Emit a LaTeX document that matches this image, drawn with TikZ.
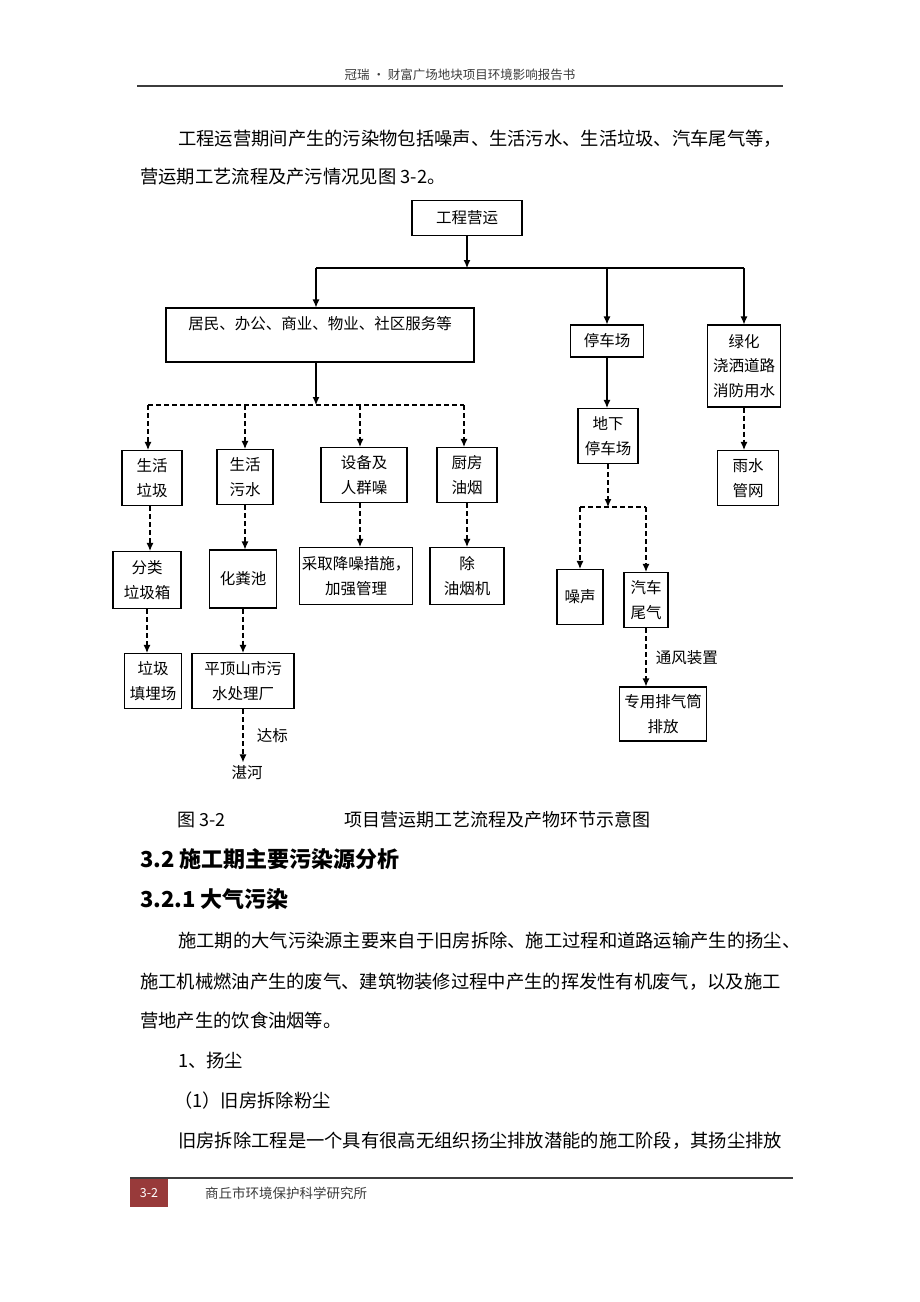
\documentclass[tikz,border=0pt]{standalone}
\usepackage{fontspec}
\setmainfont{Noto Sans CJK SC}
\usetikzlibrary{arrows.meta}
\definecolor{rulegray}{RGB}{60,60,60}
\definecolor{footred}{RGB}{152,58,58}
\tikzset{
  flowbox/.style={draw, line width=1.1pt, align=center, inner sep=0pt, font=\boxsize},
  flowline/.style={line width=1.1pt},
  flowarr/.style={line width=1.1pt, -{Latex[length=8pt,width=7pt]}},
  flowdash/.style={line width=1.1pt, dash pattern=on 5pt off 3pt},
  bodytext/.style={anchor=west, inner sep=0pt, font=\bodysize},
}
\begin{document}
\begin{tikzpicture}[x=1pt,y=-1pt]
        \newcommand{\bodysize}{\fontsize{18.3}{22}\selectfont}
        \newcommand{\boxsize}{\fontsize{15.5}{24.5}\selectfont}
        \newcommand{\headsize}{\fontsize{22}{26}\selectfont\bfseries}
        \newcommand{\smallsize}{\fontsize{12.5}{15}\selectfont}
        \useasboundingbox (0,0) rectangle (920,1302);
        \node[font=\smallsize, text=rulegray] (pagehead) at (460,75) {冠瑞 • 财富广场地块项目环境影响报告书};
        \draw[rulegray, line width=1.5pt] (137,86) -- (783,86);
        \node[bodytext] (introa) at (178,139) {工程运营期间产生的污染物包括噪声、生活污水、生活垃圾、汽车尾气等，};
        \node[bodytext] (introb) at (140,177) {营运期工艺流程及产污情况见图 3-2。};
        \node[flowbox, minimum width=110, minimum height=35] (yunying) at (467,218) {工程营运};
        \node[flowbox, minimum width=308, minimum height=54] (jumin) at (320,335) {居民、办公、商业、物业、社区服务等\\\mbox{}};
        \node[flowbox, minimum width=73, minimum height=32] (tingche) at (607,341) {停车场};
        \node[flowbox, minimum width=73, minimum height=82] (lvhua) at (744,366) {绿化\\浇洒道路\\消防用水};
        \node[flowbox, minimum width=60, minimum height=55] (ljlj) at (152,478) {生活\\垃圾};
        \node[flowbox, minimum width=56, minimum height=55] (shws) at (245,477) {生活\\污水};
        \node[flowbox, minimum width=86, minimum height=55] (sbzs) at (364,475) {设备及\\人群噪};
        \node[flowbox, minimum width=60, minimum height=55] (cfyy) at (467,475) {厨房\\油烟};
        \node[flowbox, minimum width=60, minimum height=55] (dixia) at (608,436) {地下\\停车场};
        \node[flowbox, minimum width=61, minimum height=55] (yushui) at (748,478) {雨水\\管网};
        \node[flowbox, minimum width=68, minimum height=57] (fenlei) at (147,580) {分类\\垃圾箱};
        \node[flowbox, minimum width=67, minimum height=58] (huafen) at (243,579) {化粪池};
        \node[flowbox, minimum width=113, minimum height=57] (jiangzao) at (356,576) {采取降噪措施，\\加强管理};
        \node[flowbox, minimum width=74, minimum height=57] (youyan) at (467,576) {除\\油烟机};
        \node[flowbox, minimum width=57, minimum height=55] (tianmai) at (153,681) {垃圾\\填埋场};
        \node[flowbox, minimum width=102, minimum height=55] (wushui) at (243,681) {平顶山市污\\水处理厂};
        \node[font=\boxsize] (zhanhe) at (247,773) {湛河};
        \node[flowbox, minimum width=46, minimum height=55] (zaosheng) at (580,597) {噪声};
        \node[flowbox, minimum width=44, minimum height=55] (weiqi) at (646,600) {汽车\\尾气};
        \node[flowbox, minimum width=87, minimum height=54] (paiqi) at (663,714) {专用排气筒\\排放};
        \coordinate (busa) at (467,268);
        \coordinate (busb) at (316,405);
        \coordinate (busc) at (608,507);
        \draw[flowarr] (yunying.south) -- (busa);
        \draw[flowline] ([xshift=-4]jumin.north |- busa) -- (lvhua.north |- busa);
        \draw[flowarr] ([xshift=-4]jumin.north |- busa) -- ([xshift=-4]jumin.north);
        \draw[flowarr] (tingche.north |- busa) -- (tingche.north);
        \draw[flowarr] (lvhua.north |- busa) -- (lvhua.north);
        \draw[flowarr] ([xshift=-4]jumin.south) -- ([xshift=-4]jumin.south |- busb);
        \draw[flowdash] ([xshift=-4]ljlj.north |- busb) -- ([xshift=-3]cfyy.north |- busb);
        \draw[flowdash, flowarr] ([xshift=-4]ljlj.north |- busb) -- ([xshift=-4]ljlj.north);
        \draw[flowdash, flowarr] (shws.north |- busb) -- (shws.north);
        \draw[flowdash, flowarr] ([xshift=-4]sbzs.north |- busb) -- ([xshift=-4]sbzs.north);
        \draw[flowdash, flowarr] ([xshift=-3]cfyy.north |- busb) -- ([xshift=-3]cfyy.north);
        \draw[flowdash, flowarr] ([xshift=-2]ljlj.south) -- ([xshift=-2]ljlj.south |- fenlei.north);
        \draw[flowdash, flowarr] (shws.south) -- (shws.south |- huafen.north);
        \draw[flowdash, flowarr] ([xshift=-4]sbzs.south) -- ([xshift=-4]sbzs.south |- jiangzao.north);
        \draw[flowdash, flowarr] (cfyy.south) -- (cfyy.south |- youyan.north);
        \draw[flowdash, flowarr] (fenlei.south) -- (fenlei.south |- tianmai.north);
        \draw[flowdash, flowarr] (huafen.south) -- (huafen.south |- wushui.north);
        \draw[flowdash, flowarr] (wushui.south) -- (wushui.south |- zhanhe.north) node[midway, right=10pt, font=\boxsize] (dabiao) {达标};
        \draw[flowarr] (tingche.south) -- (tingche.south |- dixia.north);
        \draw[flowdash, flowarr] (lvhua.south) -- (lvhua.south |- yushui.north);
        \draw[flowdash, flowarr] (dixia.south) -- (busc);
        \draw[flowdash] (zaosheng.north |- busc) -- (weiqi.north |- busc);
        \draw[flowdash, flowarr] (zaosheng.north |- busc) -- (zaosheng.north);
        \draw[flowdash, flowarr] (weiqi.north |- busc) -- (weiqi.north);
        \draw[flowdash, flowarr] (weiqi.south) -- (weiqi.south |- paiqi.north) node[midway, right=6pt, font=\boxsize] (tongfeng) {通风装置};
        \node[bodytext, font=\fontsize{18}{22}\selectfont] (figno) at (177,820) {图 3-2};
        \node[bodytext, font=\fontsize{18}{22}\selectfont] (figtitle) at (344,820) {项目营运期工艺流程及产物环节示意图};
        \node[bodytext, font=\headsize] (seca) at (140,859) {3.2 施工期主要污染源分析};
        \node[bodytext, font=\headsize] (secb) at (140,899) {3.2.1 大气污染};
        \node[bodytext] (parta) at (178,941) {施工期的大气污染源主要来自于旧房拆除、施工过程和道路运输产生的扬尘、};
        \node[bodytext] (partb) at (140,982) {施工机械燃油产生的废气、建筑物装修过程中产生的挥发性有机废气，以及施工};
        \node[bodytext] (partc) at (140,1021) {营地产生的饮食油烟等。};
        \node[bodytext] (dusta) at (178,1061) {1、扬尘};
        \node[bodytext] (dustb) at (174,1101) {（1）旧房拆除粉尘};
        \node[bodytext] (dustc) at (178,1141) {旧房拆除工程是一个具有很高无组织扬尘排放潜能的施工阶段，其扬尘排放};
        \draw[rulegray, line width=1.5pt] (130,1178) -- (793,1178);
        \fill[footred] (130,1179) rectangle (168,1207);
        \node[font=\smallsize, text=white] (pageno) at (149,1193) {3-2};
        \node[anchor=west, inner sep=0pt, font=\fontsize{13.5}{16}\selectfont, text=rulegray] (institute) at (205,1193) {商丘市环境保护科学研究所};
\end{tikzpicture}
\end{document}
